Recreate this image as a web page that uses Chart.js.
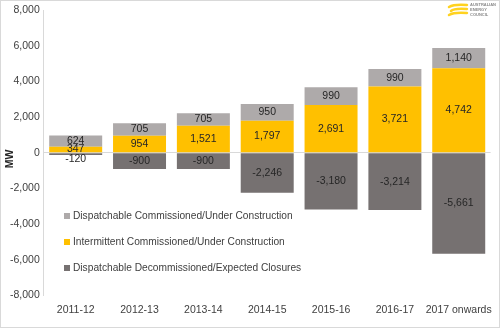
<!DOCTYPE html>
<html>
<head>
<meta charset="utf-8">
<script src="https://cdn.jsdelivr.net/npm/chart.js@4/dist/chart.umd.min.js"></script>
<style>
  html, body { margin: 0; padding: 0; background: #fff; }
  #wrap { width: 500px; height: 328px; position: relative; }
</style>
</head>
<body>
<div id="wrap"><canvas id="mwChart" width="500" height="328"></canvas></div>
<script>
// chart data
const years = ['2011-12', '2012-13', '2013-14', '2014-15', '2015-16', '2016-17', '2017 onwards'];
const dispatchableNew = [624, 705, 705, 950, 990, 990, 1140];
const intermittentNew = [347, 954, 1521, 1797, 2691, 3721, 4742];
const dispatchableClosed = [-120, -900, -900, -2246, -3180, -3214, -5661];
const yTicks = [-8000, -6000, -4000, -2000, 0, 2000, 4000, 6000, 8000];

const seriesNames = [
    'Dispatchable Commissioned/Under Construction',
    'Intermittent Commissioned/Under Construction',
    'Dispatchable Decommissioned/Expected Closures'
];
const colours = ['#aeaaaa', '#ffc000', '#767171'];
const FONT = '"Liberation Sans", Arial, sans-serif';

// number labels in the middle of each segment
const segmentLabels = {
    id: 'segmentLabels',
    afterDatasetsDraw(chart) {
        const ctx = chart.ctx;
        ctx.save();
        ctx.font = '10.5px ' + FONT;
        ctx.fillStyle = '#262626';
        ctx.textAlign = 'center';
        ctx.textBaseline = 'middle';
        chart.data.datasets.forEach((ds, i) => {
            chart.getDatasetMeta(i).data.forEach((bar, j) => {
                const v = ds.data[j];
                const h = Math.abs(bar.base - bar.y);
                let y = (bar.y + bar.base) / 2;
                if (h < 8 && v < 0) y = bar.base + 6;
                ctx.fillText(v.toLocaleString('en-US'), bar.x, y);
            });
        });
        ctx.restore();
    }
};

// legend inside the plot, axis title, frame and logo
const extras = {
    id: 'extras',
    afterDraw(chart) {
        const ctx = chart.ctx;
        ctx.save();
        // legend
        ctx.font = '10.2px ' + FONT;
        ctx.textBaseline = 'middle';
        ctx.textAlign = 'left';
        const rows = [216, 242, 268];
        seriesNames.forEach((name, i) => {
            ctx.fillStyle = colours[i];
            ctx.fillRect(64, rows[i] - 3, 6, 6);
            ctx.fillStyle = '#404040';
            ctx.fillText(name, 73, rows[i]);
        });
        // axis title
        const zeroY = chart.scales.y.getPixelForValue(0);
        ctx.save();
        ctx.translate(10, zeroY + 6);
        ctx.rotate(-Math.PI / 2);
        ctx.textAlign = 'center';
        ctx.fillStyle = '#262626';
        ctx.font = 'bold 10.5px ' + FONT;
        ctx.fillText('MW', 0, 0);
        ctx.restore();
        // logo
        ctx.strokeStyle = '#ffd21f';
        ctx.lineWidth = 2.5;
        ctx.lineCap = 'round';
        [[5, 0], [9, 2], [13, 0]].forEach(([y, dx]) => {
            ctx.beginPath();
            ctx.moveTo(449 + dx, y + 2);
            ctx.quadraticCurveTo(454, y - 1, 467, y);
            ctx.stroke();
        });
        ctx.fillStyle = '#8a8a8a';
        ctx.font = 'bold 4px ' + FONT;
        ctx.fillText('AUSTRALIAN', 470, 5);
        ctx.fillText('ENERGY', 470, 10);
        ctx.fillText('COUNCIL', 470, 15);
        // outer frame
        ctx.strokeStyle = '#d9d9d9';
        ctx.lineWidth = 1;
        ctx.strokeRect(0.5, 0.5, 499, 327);
        ctx.restore();
    }
};

new Chart(document.getElementById('mwChart').getContext('2d'), {
    type: 'bar',
    data: {
        labels: years,
        datasets: [
            { label: seriesNames[2], data: dispatchableClosed, backgroundColor: colours[2] },
            { label: seriesNames[1], data: intermittentNew, backgroundColor: colours[1] },
            { label: seriesNames[0], data: dispatchableNew, backgroundColor: colours[0] }
        ]
    },
    options: {
        responsive: false,
        animation: false,
        layout: { padding: { top: 7, right: 4, bottom: 4, left: 6 } },
        datasets: { bar: { barPercentage: 0.83, categoryPercentage: 1 } },
        plugins: { legend: { display: false }, tooltip: { enabled: false } },
        scales: {
            x: {
                stacked: true,
                grid: { display: false, drawTicks: false },
                border: { display: false },
                ticks: { color: '#404040', font: { family: FONT, size: 10.5 }, padding: 8, maxRotation: 0, autoSkip: false }
            },
            y: {
                stacked: true,
                min: -8000,
                max: 8000,
                afterBuildTicks: axis => { axis.ticks = yTicks.map(v => ({ value: v })); },
                grid: {
                    drawTicks: false,
                    color: ctx => ctx.tick && ctx.tick.value === 0 ? '#d9d9d9' : 'rgba(0,0,0,0)'
                },
                border: { display: true, color: '#d9d9d9' },
                ticks: {
                    color: '#404040',
                    font: { family: FONT, size: 10.5 },
                    padding: 4,
                    callback: v => v.toLocaleString('en-US')
                }
            }
        }
    },
    plugins: [segmentLabels, extras]
});
</script>
</body>
</html>
